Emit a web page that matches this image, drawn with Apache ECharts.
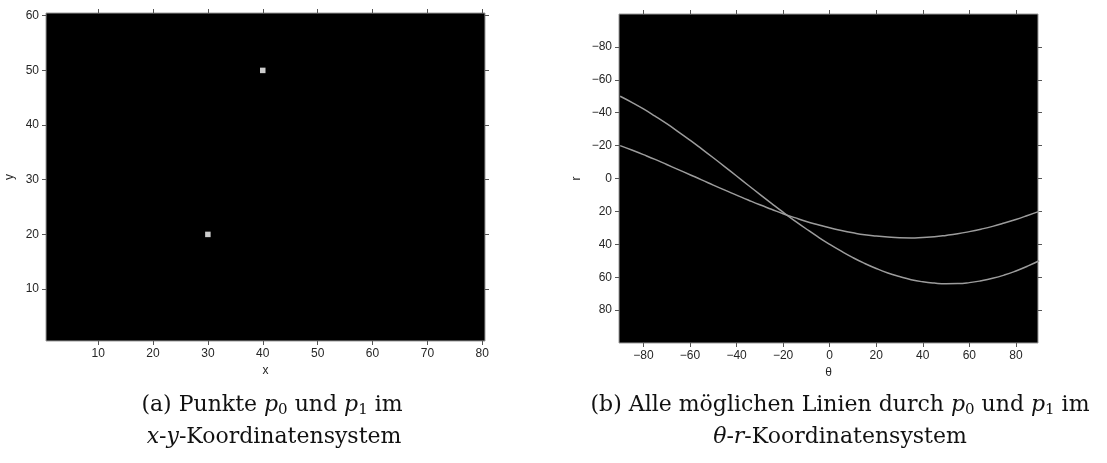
<!DOCTYPE html>
<html>
<head>
<meta charset="utf-8">
<script src="https://cdn.jsdelivr.net/npm/echarts@6/dist/echarts.min.js"></script>
<style>
html,body{margin:0;padding:0;background:#fff;}
#chart{width:1107px;height:463px;}
</style>
</head>
<body>
<div id="chart"></div>
<script>
// ---- data ----
const xyXTicks = [10, 20, 30, 40, 50, 60, 70, 80];
const xyYTicks = [10, 20, 30, 40, 50, 60];
const pointsX = [30, 40];
const pointsY = [20, 50];

const thetaDeg = [-90,-85,-80,-75,-70,-65,-60,-55,-50,-45,-40,-35,-30,-25,-20,-15,-10,-5,0,5,10,15,20,25,30,35,40,45,50,55,60,65,70,75,80,85,90];
const rP0 = [-20,-17.3,-14.5,-11.6,-8.5,-5.4,-2.3,0.8,4.0,7.1,10.1,13.1,16.0,18.7,21.4,23.8,26.1,28.1,30,31.6,33.0,34.2,35.0,35.6,36.0,36.1,35.8,35.4,34.6,33.6,32.3,30.8,29.1,27.1,24.9,22.5,20];
const rP1 = [-50,-46.3,-42.3,-37.9,-33.3,-28.4,-23.3,-18.0,-12.6,-7.1,-1.5,4.1,9.6,15.1,20.5,25.7,30.7,35.5,40,44.2,48.1,51.6,54.7,57.4,59.6,61.5,62.8,63.6,64.0,63.9,63.3,62.2,60.7,58.7,56.2,53.3,50];
const thetaTicks = [-80, -60, -40, -20, 0, 20, 40, 60, 80];
const rTicks = [-80, -60, -40, -20, 0, 20, 40, 60, 80];

// ---- styles ----
const labelFont = {fontFamily: 'Liberation Sans', fontSize: 12, color: '#262626'};
const fmt = v => String(v).replace('-', '\u2212');
const tick = vals => ({show: true, inside: false, length: 4, customValues: vals, lineStyle: {color: '#555', width: 1}});

function axis(gridIndex, position, min, max, ticks, showLabel, extra) {
  return Object.assign({
    type: 'value', gridIndex, position, min, max,
    axisLine: {show: false, onZero: false},
    splitLine: {show: false},
    axisTick: tick(ticks),
    axisLabel: showLabel ? Object.assign({show: true, margin: 7, customValues: ticks, formatter: fmt}, labelFont) : {show: false}
  }, extra || {});
}

const pairs = [];
for (let i = 0; i < pointsX.length; i++) pairs.push([pointsX[i], pointsY[i]]);
const curve0 = thetaDeg.map((t, i) => [t, rP0[i]]);
const curve1 = thetaDeg.map((t, i) => [t, rP1[i]]);

const serif = 'DejaVu Serif';
const capFont = 22;
const rich = {
  n: {fontFamily: serif, fontSize: capFont, color: '#111'},
  i: {fontFamily: serif, fontSize: capFont, fontStyle: 'italic', color: '#111'},
  s: {fontFamily: serif, fontSize: 15, color: '#111', padding: [11, 0, 0, 0]}
};
function cap(x, y, text) {
  return {type: 'text', x, y, style: {text, rich, align: 'center', verticalAlign: 'middle', font: capFont + 'px ' + serif, fill: '#111'}};
}

const chart = echarts.init(document.getElementById('chart'), null, {renderer: 'canvas'});
chart.setOption({
  animation: false,
  backgroundColor: '#fff',
  grid: [
    {left: 46, top: 13, width: 439, height: 328, show: true, backgroundColor: '#000', borderColor: '#9a9a9a', borderWidth: 1},
    {left: 619, top: 14, width: 419, height: 329, show: true, backgroundColor: '#000', borderColor: '#9a9a9a', borderWidth: 1}
  ],
  xAxis: [
    axis(0, 'bottom', 0.5, 80.5, xyXTicks, true, {name: 'x', nameLocation: 'middle', nameGap: 24, nameTextStyle: labelFont}),
    axis(0, 'top', 0.5, 80.5, xyXTicks, false),
    axis(1, 'bottom', -90.5, 89.5, thetaTicks, true, {name: '\u03b8', nameLocation: 'middle', nameGap: 24, nameTextStyle: labelFont}),
    axis(1, 'top', -90.5, 89.5, thetaTicks, false)
  ],
  yAxis: [
    axis(0, 'left', 0.5, 60.5, xyYTicks, true, {name: 'y', nameLocation: 'middle', nameGap: 30, nameTextStyle: labelFont}),
    axis(0, 'right', 0.5, 60.5, xyYTicks, false),
    axis(1, 'left', -100, 100, rTicks, true, {inverse: true, name: 'r', nameLocation: 'middle', nameGap: 36, nameTextStyle: labelFont}),
    axis(1, 'right', -100, 100, rTicks, false, {inverse: true})
  ],
  series: [
    {type: 'scatter', xAxisIndex: 0, yAxisIndex: 0, symbol: 'rect', symbolSize: 5.5, itemStyle: {color: '#fff'}, data: pairs},
    {type: 'line', xAxisIndex: 2, yAxisIndex: 2, showSymbol: false, smooth: true, clip: true, lineStyle: {color: '#9c9c9c', width: 1.5}, data: curve0},
    {type: 'line', xAxisIndex: 2, yAxisIndex: 2, showSymbol: false, smooth: true, clip: true, lineStyle: {color: '#9c9c9c', width: 1.5}, data: curve1}
  ],
  graphic: [
    cap(272, 405, '{n|(a) Punkte }{i|p}{s|0}{n| und }{i|p}{s|1}{n| im}'),
    cap(274, 437, '{i|x}{n|-}{i|y}{n|-Koordinatensystem}'),
    cap(840, 405, '{n|(b) Alle m\u00f6glichen Linien durch }{i|p}{s|0}{n| und }{i|p}{s|1}{n| im}'),
    cap(840, 437, '{i|\u03b8}{n|-}{i|r}{n|-Koordinatensystem}')
  ]
});
</script>
</body>
</html>
